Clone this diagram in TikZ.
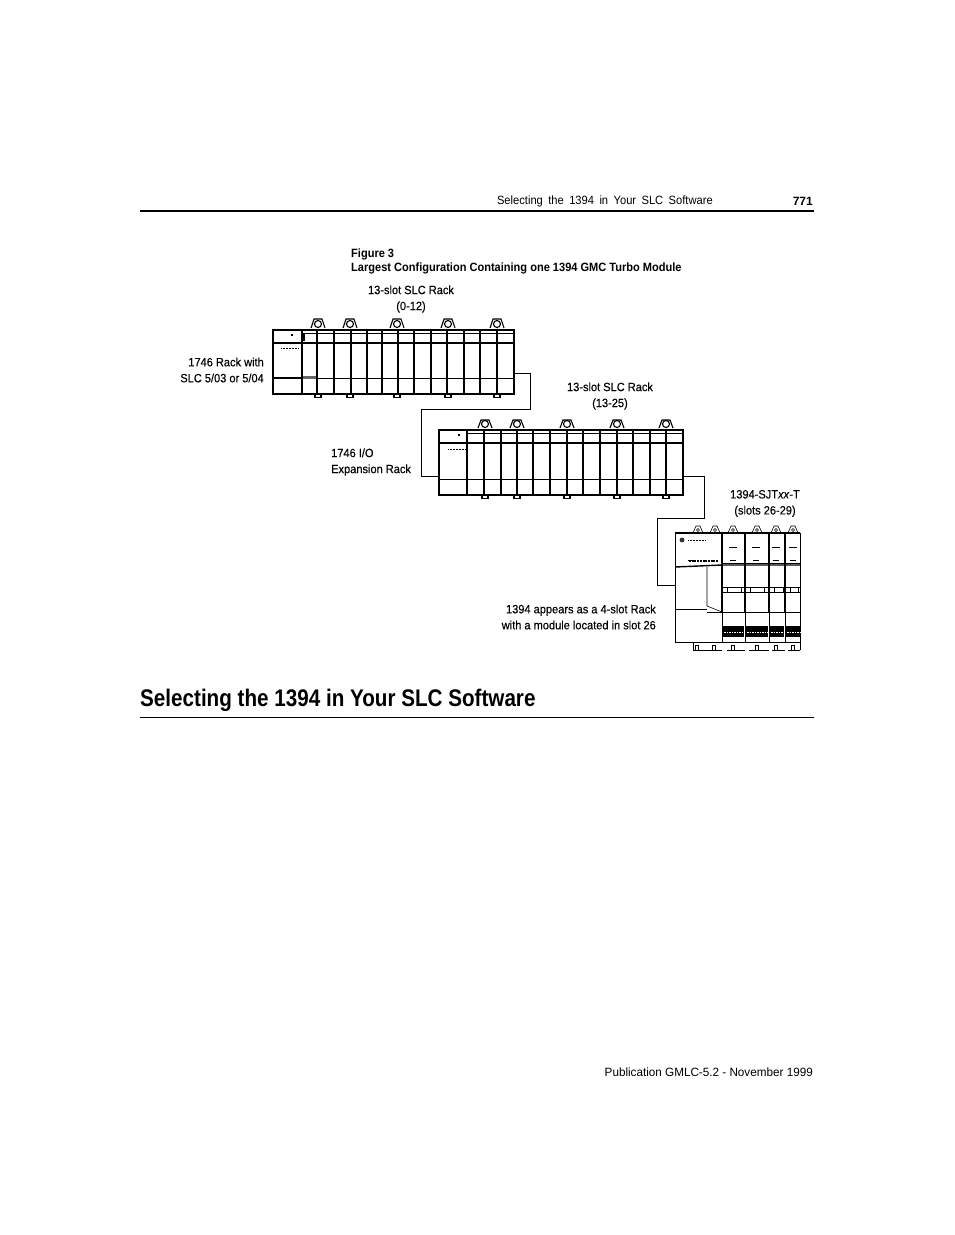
\documentclass[tikz,border=0pt]{standalone}
\usepackage{fontspec}
\setmainfont{Liberation Sans}
\newfontfamily\titlefont[FakeStretch=.86]{Liberation Sans}
\newfontfamily\figfont[FakeStretch=.92,FakeBold=.25]{Liberation Sans}
\newfontfamily\capfont[FakeStretch=.92]{Liberation Sans}
\newfontfamily\headfont[FakeStretch=.93,WordSpace=1.75]{Liberation Sans}
\newfontfamily\footfont[FakeStretch=.975]{Liberation Sans}
\tikzset{
  pagetext/.style={inner sep=0pt,font=\fontsize{12}{14}\selectfont},
  labeltext/.style={inner sep=0pt,align=center,font=\figfont\fontsize{12}{16}\selectfont},
  rackbox/.style={draw,line width=1.5pt,inner sep=0pt,anchor=north west},
  wire/.style={line width=.9pt},
  slotrule/.style={line width=2.4pt,black},
  thinline/.style={line width=.6pt},
  clip top/.style={line width=1.1pt},
}
\begin{document}
\begin{tikzpicture}[x=1pt,y=-1pt]
 \useasboundingbox (0,0) rectangle (954,1235);
 % page header
 \node[pagetext,anchor=east,font=\headfont\fontsize{12}{14}\selectfont] (headtext) at (713,201) {Selecting the 1394 in Your SLC Software};
 \node[pagetext,anchor=east] (pagenum) at (813,201) {\bfseries 771};
 \draw[line width=2pt] (140,211) -- (814,211);
 % figure caption
 \node[pagetext,anchor=west,font=\capfont\fontsize{12}{14}\selectfont] (figno) at (351,254) {\bfseries Figure 3};
 \node[pagetext,anchor=west,font=\capfont\fontsize{12}{14}\selectfont] (figtitle) at (351,268) {\bfseries Largest Configuration Containing one 1394 GMC Turbo Module};
 % first rack
 \node[rackbox,minimum width=241pt,minimum height=64pt] (rackA) at (272,329) {};
 \draw[line width=2pt] (272,343) -- (513,343);
 \draw[line width=.8pt] (272,378) -- (513,378);
 \draw[line width=1.6pt] (272,378) -- (302,378);
 \draw[line width=.8pt] (302,333) -- (513,333);
 \fill[black!60] (302,376) rectangle (317,379);
 \draw[line width=1.4pt] (304,334) -- (304,341);
 \fill (291,334) rectangle (293,336);
 \draw[line width=.7pt,dash pattern=on 1pt off .5pt] (281,348) -- (298,348);
 \foreach \x in {302,317,334,351,367,382,398,414,431,447,464,480,497}
  \fill[black] (\x-1.2,329) rectangle (\x+1.2,393);
 \foreach \x in {318,350,397,448,497} {
  \draw[clip top] (\x-7,328) -- (\x-4,319) -- (\x+4,319) -- (\x+7,328);
  \draw[clip top] (\x,324) circle (3.5);
  \draw[clip top] (\x-3,393) -- (\x-3,397.5) -- (\x+3,397.5) -- (\x+3,393);
 }
 % second rack
 \node[rackbox,minimum width=244pt,minimum height=65pt] (rackB) at (438,429) {};
 \draw[line width=2pt] (438,443) -- (682,443);
 \draw[line width=1pt] (438,479) -- (682,479);
 \draw[line width=.8pt] (467,433) -- (682,433);
 \fill (458,434) rectangle (460,436);
 \draw[line width=.7pt,dash pattern=on 1pt off .5pt] (448,449) -- (465,449);
 \foreach \x in {467,484,501,517,533,550,567,583,600,617,633,650,666}
  \fill[black] (\x-1.2,429) rectangle (\x+1.2,494);
 \foreach \x in {485,517,567,617,666} {
  \draw[clip top] (\x-7,428) -- (\x-4,420) -- (\x+4,420) -- (\x+7,428);
  \draw[clip top] (\x,424) circle (3.5);
  \draw[clip top] (\x-3,494) -- (\x-3,498.5) -- (\x+3,498.5) -- (\x+3,494);
 }
 % 1394 drive
 \node[draw,line width=.7pt,inner sep=0pt,anchor=north west,minimum width=125pt,minimum height=109pt] (drive) at (675,533) {};
 \draw[line width=1.4pt] (675,533) -- (800,533);
 \foreach \x in {722,745,769,785}
  \fill[black] (\x-1,533) rectangle (\x+1,612);
 \foreach \x in {722,745,769,785}
  \draw[thinline] (\x,612) -- (\x,642);
 \draw[line width=1.4pt] (675,567) -- (722,565) -- (800,565);
 \draw[line width=.8pt] (722,563) -- (800,563);
 \draw[thinline] (707,567) -- (707,606) -- (722,612);
 \draw[line width=.8pt] (675,609) -- (707,609);
 \draw[line width=.8pt] (707,612) -- (800,612);
 \draw[line width=.8pt] (722,587) -- (800,587);
 \draw[line width=.8pt] (722,592) -- (800,592);
 \foreach \x in {727,741,750,764,774,783,790,798}
  \draw[thinline] (\x,587) -- (\x,592);
 \fill[black!80] (682,540) circle (2.4);
 \draw[line width=1pt,dash pattern=on 1pt off .5pt] (688,540) -- (705,540);
 \draw[line width=1.2pt,dash pattern=on 2pt off .7pt] (689,561) -- (718,561);
 \draw[line width=1pt] (688,560) -- (694,560);
 \foreach \x in {733,756,776,793} {
  \draw[line width=.8pt] (\x-4,547.5) -- (\x+4,547.5);
  \draw[line width=1.6pt] (\x-3,560.5) -- (\x+3,560.5);
 }
 \foreach \x/\w in {723/21,746/22,770/14,786/14} {
  \fill (\x,626) rectangle (\x+\w,637);
  \draw[white,line width=1pt,dash pattern=on 1.5pt off 1pt] (\x+1,632) -- (\x+\w,632);
 }
 \foreach \x in {698,715,733,757,776,793} {
  \draw[thinline] (\x-5,533) -- (\x-2,526) -- (\x+2,526) -- (\x+5,533);
  \draw[thinline] (\x,530) circle (1.5);
 }
 \foreach \x in {693,800} \draw[thinline] (\x,642) -- (\x,650);
 \foreach \x in {697,714,733,757,776,793} \draw[thinline] (\x-1.5,650) -- (\x-1.5,645) -- (\x+1.5,645) -- (\x+1.5,650);
 \draw[thinline] (693,650) -- (722,650) (727,650) -- (745,650) (749,650) -- (769,650) (772,650) -- (785,650) (788,650) -- (800,650);
 % cables
 \coordinate (turnA) at (530,409);
 \coordinate (turnB) at (421,476);
 \coordinate (turnC) at (704,518);
 \coordinate (turnD) at (657,585);
 \draw[wire] ([yshift=-12pt]rackA.east) -| (turnA) -| (turnB) -- (turnB -| rackB.west);
 \draw[wire] ([yshift=-14.5pt]rackB.east) -| (turnC) -| (turnD) -- (turnD -| drive.west);
 % labels
 \node[labeltext,anchor=center] (labelA) at (411,299) {13-slot SLC Rack\\(0-12)};
 \node[labeltext,align=right,anchor=east] (labelB) at (264,370) {1746 Rack with\\SLC 5/03 or 5/04};
 \node[labeltext,anchor=center] (labelC) at (610,396) {13-slot SLC Rack\\(13-25)};
 \node[labeltext,align=left,anchor=west] (labelD) at (331,462) {1746 I/O\\Expansion Rack};
 \node[labeltext,anchor=center] (labelE) at (765,503.5) {1394-SJT\textit{xx}-T\\(slots 26-29)};
 \node[labeltext,align=right,anchor=east] (labelF) at (656,617) {1394 appears as a 4-slot Rack\\with a module located in slot 26};
 % section heading
 \node[inner sep=0pt,anchor=west,font=\titlefont\bfseries\fontsize{24}{28}\selectfont] (section) at (140,700.5) {Selecting the 1394 in Your SLC Software};
 \draw[line width=.7pt] (140,717) -- (814,717);
 % footer
 \node[pagetext,anchor=east,font=\footfont\fontsize{12}{14}\selectfont] (footer) at (813,1072) {Publication GMLC-5.2 - November 1999};
\end{tikzpicture}
\end{document}
